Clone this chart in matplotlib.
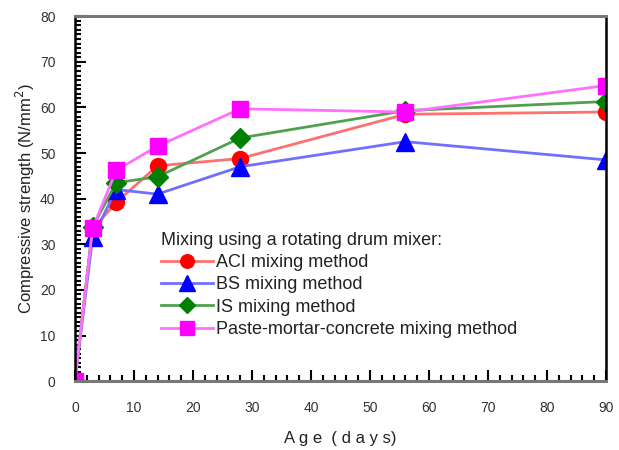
import matplotlib
matplotlib.use("Agg")
import matplotlib.pyplot as plt
from matplotlib.ticker import MultipleLocator

plt.rcParams['font.family'] = ['Liberation Sans', 'DejaVu Sans']

# data
age = [0, 3, 7, 14, 28, 56, 90]
aci = [0, 33.3, 39.2, 47.2, 48.8, 58.5, 59.0]
bs = [0, 31.5, 42.0, 41.0, 47.0, 52.5, 48.5]
is_ = [0, 33.8, 43.5, 44.8, 53.3, 59.3, 61.3]
pmc = [0, 33.5, 46.2, 51.5, 59.7, 59.0, 64.8]

labels = ["ACI mixing method", "BS mixing method", "IS mixing method",
          "Paste-mortar-concrete mixing method"]
series = [aci, bs, is_, pmc]
colors = ["red", "blue", "green", "magenta"]
line_colors = ["#ff7070", "#7070ff", "#50a050", "#ff70ff"]
markers = ["o", "^", "D", "s"]
sizes = [11.5, 13, 10, 11.5]

fig = plt.figure(figsize=(6.19, 4.5), dpi=100)
ax = fig.add_axes([0.121, 0.153, 0.858, 0.811])

for y, lab, c, lc, m, ms in zip(series, labels, colors, line_colors, markers, sizes):
    ax.plot(age, y, color=lc, linewidth=2, marker=m, markersize=ms,
            markerfacecolor=c, markeredgecolor=c, label=lab)

ax.set_xlim(0, 90)
ax.set_ylim(0, 80)
ax.xaxis.set_major_locator(MultipleLocator(10))
ax.xaxis.set_minor_locator(MultipleLocator(2))
ax.yaxis.set_major_locator(MultipleLocator(10))
ax.yaxis.set_minor_locator(MultipleLocator(1))
ax.tick_params(which='both', direction='in', top=False, right=False,
               labelsize=10, colors='black', labelcolor='#333333')
ax.tick_params(which='major', length=8, width=1.5)
ax.tick_params(which='minor', length=4, width=1.5)
ax.tick_params(axis='x', which='major', pad=14)
ax.tick_params(axis='y', which='major', pad=14)
for s in ['left', 'right']:
    ax.spines[s].set_linewidth(1.8)
    ax.spines[s].set_color('black')
for s in ['top', 'bottom']:
    ax.spines[s].set_linewidth(2.2)
    ax.spines[s].set_color('#777777')

ax.set_xlabel("A g e  ( d a y s)", fontsize=12, color='#222222', labelpad=12)
ax.set_ylabel("Compressive strength (N/mm$^2$)", fontsize=12, color='#222222',
              labelpad=2)

leg = ax.legend(loc='upper left', bbox_to_anchor=(0.162, 0.41), frameon=False,
                title="Mixing using a rotating drum mixer:", fontsize=13,
                title_fontsize=13, handlelength=2.9, handletextpad=0.15,
                labelspacing=0.3, borderpad=0, borderaxespad=0,
                markerscale=0.85)
leg._legend_box.align = "left"
leg.get_title().set_color('#222222')
for t in leg.get_texts():
    t.set_color('#222222')

fig.savefig("out.png", dpi=100)
